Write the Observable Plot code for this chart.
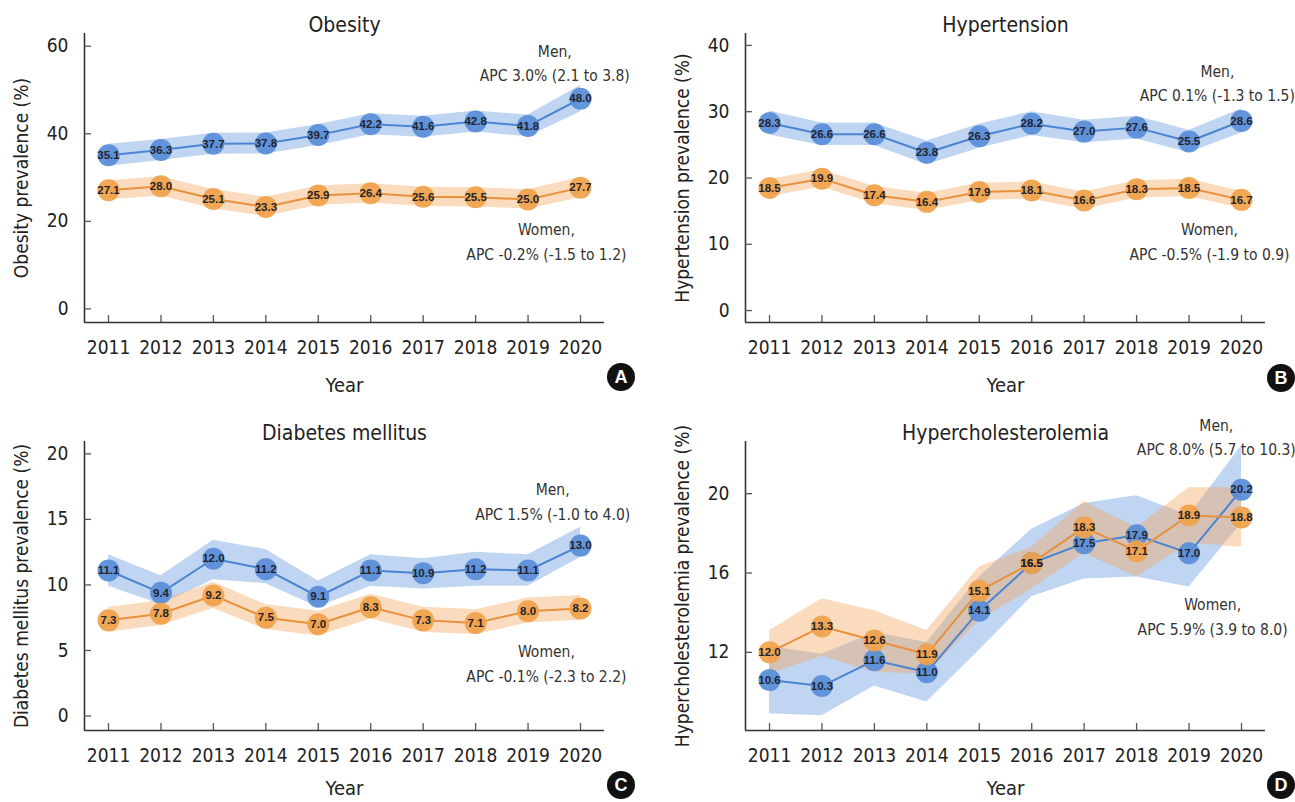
<!DOCTYPE html>
<html><head><meta charset="utf-8">
<script src="https://cdn.jsdelivr.net/npm/d3@7"></script>
<script src="https://cdn.jsdelivr.net/npm/@observablehq/plot@0.6"></script>
<style>
body{margin:0;background:#fff;}
#root{position:relative;width:1295px;height:802px;overflow:hidden;background:#fff;}
.panel{position:absolute;}
.panel svg{overflow:visible;}
.badge{position:absolute;width:28px;height:28px;margin-left:-14px;margin-top:-14px;border-radius:50%;background:#111;color:#fff;font:bold 18px "Liberation Sans",Arial,sans-serif;display:flex;align-items:center;justify-content:center;}
</style></head><body><div id="root"></div><script>
const years = [2011, 2012, 2013, 2014, 2015, 2016, 2017, 2018, 2019, 2020];

// Obesity
const obesityMen      = [35.1, 36.3, 37.7, 37.8, 39.7, 42.2, 41.6, 42.8, 41.8, 48.0];
const obesityMenLo    = [32.6, 33.9, 35.3, 35.4, 37.3, 39.8, 39.2, 40.4, 39.3, 45.0];
const obesityMenHi    = [37.6, 38.7, 40.1, 40.2, 42.1, 44.6, 44.0, 45.2, 44.3, 51.0];
const obesityWomen    = [27.1, 28.0, 25.1, 23.3, 25.9, 26.4, 25.6, 25.5, 25.0, 27.7];
const obesityWomenLo  = [24.9, 25.8, 22.9, 21.1, 23.7, 24.2, 23.4, 23.3, 22.8, 25.4];
const obesityWomenHi  = [29.3, 30.2, 27.3, 25.5, 28.1, 28.6, 27.8, 27.7, 27.2, 30.0];

// Hypertension
const htnMen      = [28.3, 26.6, 26.6, 23.8, 26.3, 28.2, 27.0, 27.6, 25.5, 28.6];
const htnMenLo    = [26.5, 24.9, 24.9, 22.0, 24.5, 26.4, 25.3, 25.9, 23.8, 26.8];
const htnMenHi    = [30.1, 28.3, 28.3, 25.6, 28.1, 30.0, 28.7, 29.3, 27.2, 30.4];
const htnWomen    = [18.5, 19.9, 17.4, 16.4, 17.9, 18.1, 16.6, 18.3, 18.5, 16.7];
const htnWomenLo  = [17.2, 18.6, 16.1, 15.1, 16.6, 16.8, 15.3, 17.0, 17.2, 15.4];
const htnWomenHi  = [19.8, 21.2, 18.7, 17.7, 19.2, 19.4, 17.9, 19.6, 19.8, 18.0];

// Diabetes mellitus
const dmMen      = [11.1, 9.4, 12.0, 11.2, 9.1, 11.1, 10.9, 11.2, 11.1, 13.0];
const dmMenLo    = [9.9, 8.5, 10.4, 10.1, 8.3, 9.9, 9.7, 9.9, 9.9, 12.1];
const dmMenHi    = [12.3, 10.7, 13.4, 12.7, 10.3, 12.3, 12.0, 12.5, 12.3, 14.4];
const dmWomen    = [7.3, 7.8, 9.2, 7.5, 7.0, 8.3, 7.3, 7.1, 8.0, 8.2];
const dmWomenLo  = [6.4, 6.9, 8.2, 6.6, 6.1, 7.4, 6.4, 6.2, 7.1, 7.3];
const dmWomenHi  = [8.3, 8.8, 10.2, 8.5, 8.0, 9.3, 8.3, 8.1, 9.0, 9.2];

// Hypercholesterolemia
const hcMen      = [10.6, 10.3, 11.6, 11.0, 14.1, 16.5, 17.5, 17.9, 17.0, 20.2];
const hcMenLo    = [8.9, 8.8, 10.3, 9.5, 12.1, 14.8, 15.7, 15.8, 15.3, 18.5];
const hcMenHi    = [12.3, 11.9, 13.0, 12.5, 15.8, 18.2, 19.5, 19.9, 18.9, 22.4];
const hcWomen    = [12.0, 13.3, 12.6, 11.9, 15.1, 16.5, 18.3, 17.1, 18.9, 18.8];
const hcWomenLo  = [10.9, 11.8, 11.0, 10.9, 13.6, 15.2, 17.0, 15.8, 17.5, 17.3];
const hcWomenHi  = [13.1, 14.7, 14.1, 13.1, 16.3, 17.3, 19.6, 18.3, 20.3, 20.3];

const obesityTicks = [0, 20, 40, 60];
const htnTicks = [0, 10, 20, 30, 40];
const dmTicks = [0, 5, 10, 15, 20];
const hcTicks = [12, 16, 20];

const panels = [
  {key:"A", title:"Obesity", ylabel:"Obesity prevalence (%)", left:0, top:0, width:647, height:400, yearDy:63,
   yDomain:[-3.1, 62.9], yTicks:obesityTicks,
   men:obesityMen, menLo:obesityMenLo, menHi:obesityMenHi, women:obesityWomen, womenLo:obesityWomenLo, womenHi:obesityWomenHi,
   menNote:"Men,\nAPC 3.0% (2.1 to 3.8)", womenNote:"Women,\nAPC -0.2% (-1.5 to 1.2)",
   menAt:[2019.51, 56.6], womenAt:[2019.35, 15.8], badge:[621, 377]},
  {key:"B", title:"Hypertension", ylabel:"Hypertension prevalence (%)", left:661, top:0, width:634, height:400, yearDy:63,
   yDomain:[-1.8, 41.8], yTicks:htnTicks,
   men:htnMen, menLo:htnMenLo, menHi:htnMenHi, women:htnWomen, womenLo:htnWomenLo, womenHi:htnWomenHi,
   menNote:"Men,\nAPC 0.1% (-1.3 to 1.5)", womenNote:"Women,\nAPC -0.5% (-1.9 to 0.9)",
   menAt:[2019.54, 34.6], womenAt:[2019.39, 10.7], badge:[1281, 378]},
  {key:"C", title:"Diabetes mellitus", ylabel:"Diabetes mellitus prevalence (%)", left:0, top:408, width:647, height:394, yearDy:58,
   yDomain:[-1.1, 20.94], yTicks:dmTicks,
   men:dmMen, menLo:dmMenLo, menHi:dmMenHi, women:dmWomen, womenLo:dmWomenLo, womenHi:dmWomenHi,
   menNote:"Men,\nAPC 1.5% (-1.0 to 4.0)", womenNote:"Women,\nAPC -0.1% (-2.3 to 2.2)",
   menAt:[2019.47, 16.5], womenAt:[2019.35, 4.15], badge:[621, 785]},
  {key:"D", title:"Hypercholesterolemia", ylabel:"Hypercholesterolemia prevalence (%)", left:661, top:408, width:634, height:394, yearDy:58,
   yDomain:[8.06, 22.63], yTicks:hcTicks,
   men:hcMen, menLo:hcMenLo, menHi:hcMenHi, women:hcWomen, womenLo:hcWomenLo, womenHi:hcWomenHi,
   menNote:"Men,\nAPC 8.0% (5.7 to 10.3)", womenNote:"Women,\nAPC 5.9% (3.9 to 8.0)",
   menAt:[2019.52, 22.95], womenAt:[2019.45, 13.9], badge:[1281, 785]}
];

const FONT = '"Liberation Sans Narrow","Arial Narrow","DejaVu Sans Condensed","Liberation Sans",sans-serif';
const BLUE = "#5b8fd8", BLUE_LINE = "#4a84d2", BLUE_BAND = "#6a9ade";
const ORANGE = "#f0a24a", ORANGE_LINE = "#e8913b", ORANGE_BAND = "#f2aa62";
const AX = "#333";

const root = document.getElementById("root");

function makePanel(p) {
  const W = p.width, H = p.height;
  const axisLeft = 84, axisRight = 604, axisTop = 33, axisBottom = 322;
  const xd = [2010.542, 2020.458];
  const unitX = (xd[1] - xd[0]) / (axisRight - axisLeft);
  const unitY = (p.yDomain[1] - p.yDomain[0]) / (axisBottom - axisTop);
  const rows = years.map((yr, i) => ({
    year: yr, men: p.men[i], menLo: p.menLo[i], menHi: p.menHi[i],
    women: p.women[i], womenLo: p.womenLo[i], womenHi: p.womenHi[i]
  }));
  const labelStyle = {fontSize: 11.5, fontWeight: "bold", fontFamily: '"Liberation Sans",Arial,sans-serif', fill: "#23232e"};
  const plot = Plot.plot({
    width: W, height: H,
    marginLeft: axisLeft, marginRight: W - axisRight, marginTop: axisTop, marginBottom: H - axisBottom,
    x: {domain: xd, axis: null},
    y: {domain: p.yDomain, axis: null},
    style: {fontFamily: FONT, fontSize: "19px", color: "#222", background: "transparent"},
    marks: [
      Plot.areaY(rows, {x: "year", y1: "menLo", y2: "menHi", fill: BLUE_BAND, fillOpacity: 0.42}),
      Plot.areaY(rows, {x: "year", y1: "womenLo", y2: "womenHi", fill: ORANGE_BAND, fillOpacity: 0.42}),
      Plot.line(rows, {x: "year", y: "men", stroke: BLUE_LINE, strokeWidth: 2}),
      Plot.dot(rows, {x: "year", y: "men", r: 11, fill: BLUE, fillOpacity: 0.95, stroke: null}),
      Plot.line(rows, {x: "year", y: "women", stroke: ORANGE_LINE, strokeWidth: 2}),
      Plot.dot(rows, {x: "year", y: "women", r: 11, fill: ORANGE, fillOpacity: 0.92, stroke: null}),
      Plot.text(rows, {x: "year", y: "men", text: d => d.men.toFixed(1), ...labelStyle}),
      Plot.text(rows, {x: "year", y: "women", text: d => d.women.toFixed(1), ...labelStyle}),
      // axis lines
      Plot.ruleX([xd[0]], {y1: p.yDomain[0], y2: p.yDomain[1], stroke: AX, strokeWidth: 1.6}),
      Plot.ruleY([p.yDomain[0]], {x1: xd[0], x2: xd[1], stroke: AX, strokeWidth: 1.6}),
      // inward ticks
      Plot.ruleY(p.yTicks, {x1: xd[0], x2: xd[0] + 7 * unitX, stroke: "#555", strokeWidth: 1.3}),
      Plot.ruleX(years, {y1: p.yDomain[0], y2: p.yDomain[0] + 7 * unitY, stroke: "#555", strokeWidth: 1.3}),
      Plot.axisX({ticks: years, tickSize: 0, tickPadding: 18, tickFormat: d => String(d), label: null, fontSize: 19}),
      Plot.axisY({ticks: p.yTicks, tickSize: 0, tickPadding: 16, tickFormat: d => String(d), label: null, fontSize: 19}),
      // titles & labels
      Plot.text([p.title], {frameAnchor: "top", dy: -8, lineAnchor: "middle", textAnchor: "middle", text: d => d, fontSize: 21, fill: "#222"}),
      Plot.text(["Year"], {frameAnchor: "bottom", dy: p.yearDy, lineAnchor: "middle", textAnchor: "middle", text: d => d, fontSize: 20, fill: "#222"}),
      Plot.text([p.ylabel], {frameAnchor: "left", dx: -63, rotate: -90, textAnchor: "middle", lineAnchor: "middle", text: d => d, fontSize: 19, fill: "#222"}),
      // annotations
      Plot.text([{x: p.menAt[0], y: p.menAt[1], t: p.menNote}], {x: "x", y: "y", text: "t", fontSize: 15.5, lineHeight: 1.58, textAnchor: "middle", lineAnchor: "middle", fill: "#333"}),
      Plot.text([{x: p.womenAt[0], y: p.womenAt[1], t: p.womenNote}], {x: "x", y: "y", text: "t", fontSize: 15.5, lineHeight: 1.58, textAnchor: "middle", lineAnchor: "middle", fill: "#333"})
    ]
  });
  const holder = document.createElement("div");
  holder.className = "panel";
  holder.style.left = p.left + "px";
  holder.style.top = p.top + "px";
  holder.appendChild(plot);
  root.appendChild(holder);
  const b = document.createElement("div");
  b.className = "badge";
  b.textContent = p.key;
  b.style.left = p.badge[0] + "px";
  b.style.top = p.badge[1] + "px";
  root.appendChild(b);
}
panels.forEach(makePanel);
</script></body></html>
